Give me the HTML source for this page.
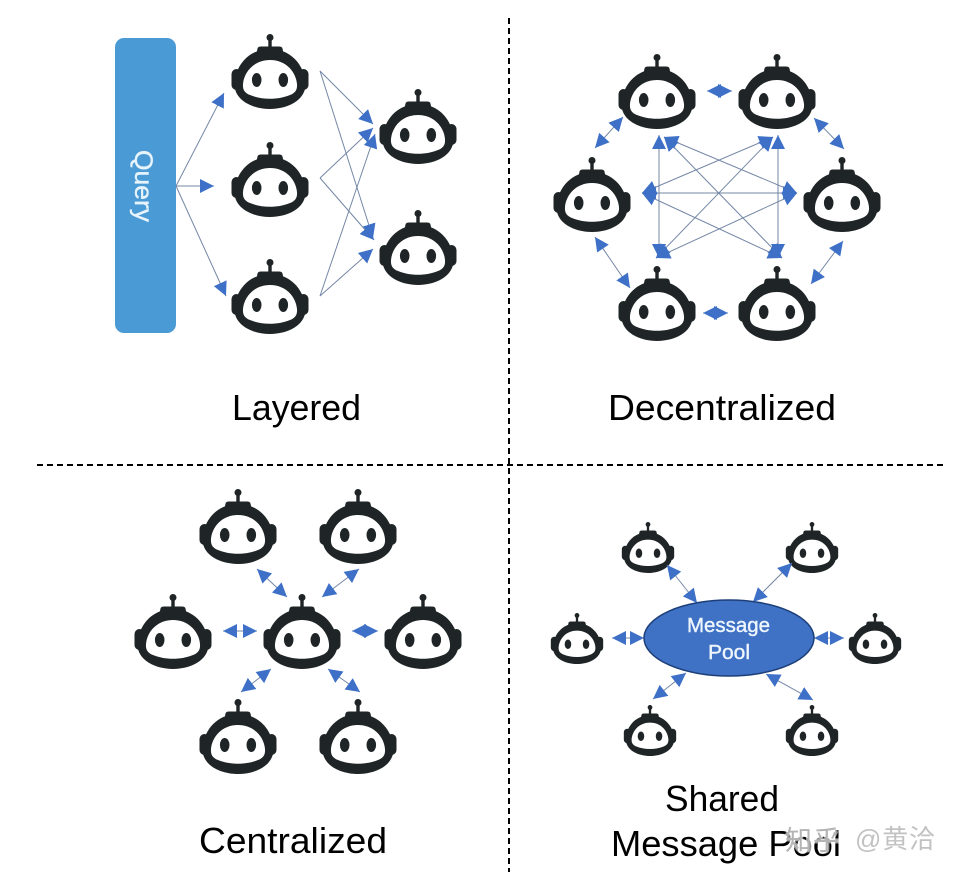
<!DOCTYPE html>
<html>
<head>
<meta charset="utf-8">
<style>
html,body{margin:0;padding:0;background:#fff;width:960px;height:876px;overflow:hidden}
svg{display:block}
text{font-family:"Liberation Sans","Noto Sans CJK SC",sans-serif}
.l{stroke:#7487a6;stroke-width:1;fill:none}
.b{marker-start:url(#as);marker-end:url(#ae)}
.e{marker-end:url(#ae)}
.t{font-size:36px;fill:#000;text-anchor:start}
</style>
</head>
<body>
<svg width="960" height="876" viewBox="0 0 960 876" xmlns="http://www.w3.org/2000/svg">
<defs>
<marker id="ae" markerUnits="userSpaceOnUse" markerWidth="16" markerHeight="16" refX="14" refY="8" orient="auto"><path d="M0 1 L14 8 L0 15Z" fill="#3d70c6"/></marker>
<marker id="as" markerUnits="userSpaceOnUse" markerWidth="16" markerHeight="16" refX="0" refY="8" orient="auto"><path d="M14 1 L0 8 L14 15Z" fill="#3d70c6"/></marker>
<g id="r">
<rect x="-1.7" y="3" width="3.4" height="12" fill="#1f2526"/>
<circle cx="0" cy="3.5" r="3.5" fill="#1f2526"/>
<path d="M-14 22 L-12.5 14.5 Q-12 12.5 -9 12.5 L9 12.5 Q12 12.5 12.5 14.5 L14 22Z" fill="#1f2526"/>
<rect x="-38.5" y="35" width="10" height="21" rx="5" fill="#1f2526"/>
<rect x="28.5" y="35" width="10" height="21" rx="5" fill="#1f2526"/>
<path d="M0 15 C20 15 34 30 35.5 49 C36.5 66 18 75 0 75 C-18 75 -36.5 66 -35.5 49 C-34 30 -20 15 0 15Z" fill="#1f2526"/>
<path d="M0 26 C-16 26 -26 38 -27 50 C-27.5 56 -25 59 -20 61 C-8 66 8 66 20 61 C25 59 27.5 56 27 50 C26 38 16 26 0 26Z" fill="#fff"/>
<ellipse cx="-13.3" cy="46" rx="4.8" ry="7" fill="#1f2526"/>
<ellipse cx="13.3" cy="46" rx="4.8" ry="7" fill="#1f2526"/>
</g>
</defs>

<!-- dividers -->
<line x1="509" y1="18" x2="509" y2="872" stroke="#000" stroke-width="2" stroke-dasharray="6 4"/>
<line x1="37" y1="465" x2="943" y2="465" stroke="#000" stroke-width="2" stroke-dasharray="6 4"/>

<!-- Layered -->
<rect x="115" y="38" width="61" height="295" rx="9" fill="#4a9ad6"/>
<text transform="translate(135,150) rotate(90)" font-size="25" fill="#e8f4fb" stroke="#e8f4fb" stroke-width=".4" textLength="72" lengthAdjust="spacingAndGlyphs">Query</text>
<use href="#r" transform="translate(270,34)"/>
<use href="#r" transform="translate(270,142)"/>
<use href="#r" transform="translate(270,259)"/>
<use href="#r" transform="translate(418,89)"/>
<use href="#r" transform="translate(418,210)"/>
<line class="l e" x1="176" y1="186" x2="224" y2="93"/>
<line class="l e" x1="176" y1="186" x2="214" y2="186"/>
<line class="l e" x1="176" y1="186" x2="226" y2="296"/>
<line class="l e" x1="320" y1="71" x2="373" y2="124"/>
<line class="l e" x1="320" y1="71" x2="373" y2="238"/>
<line class="l e" x1="320" y1="178" x2="373" y2="128"/>
<line class="l e" x1="320" y1="178" x2="374" y2="240"/>
<line class="l e" x1="320" y1="296" x2="375" y2="134"/>
<line class="l e" x1="320" y1="296" x2="373" y2="249"/>
<text class="t" x="232" y="420" textLength="129" lengthAdjust="spacingAndGlyphs">Layered</text>

<!-- Decentralized -->
<use href="#r" transform="translate(657,54)"/>
<use href="#r" transform="translate(777,54)"/>
<use href="#r" transform="translate(592,157)"/>
<use href="#r" transform="translate(842,157)"/>
<use href="#r" transform="translate(657,266)"/>
<use href="#r" transform="translate(777,266)"/>
<line class="l b" x1="707" y1="91" x2="732" y2="91"/>
<line class="l b" x1="703" y1="313" x2="728" y2="313"/>
<line class="l b" x1="595" y1="148" x2="623" y2="117"/>
<line class="l b" x1="814" y1="118" x2="844" y2="149"/>
<line class="l b" x1="595" y1="237" x2="630" y2="288"/>
<line class="l b" x1="843" y1="241" x2="811" y2="284"/>
<line class="l b" x1="659" y1="135" x2="659" y2="258"/>
<line class="l b" x1="778" y1="135" x2="778" y2="258"/>
<line class="l b" x1="642" y1="193" x2="797" y2="193"/>
<line class="l b" x1="664" y1="137" x2="797" y2="193"/>
<line class="l b" x1="664" y1="137" x2="782" y2="258"/>
<line class="l b" x1="773" y1="137" x2="642" y2="193"/>
<line class="l b" x1="773" y1="137" x2="656" y2="258"/>
<line class="l b" x1="642" y1="193" x2="782" y2="258"/>
<line class="l b" x1="797" y1="193" x2="656" y2="258"/>
<text class="t" x="608" y="420" textLength="228" lengthAdjust="spacingAndGlyphs">Decentralized</text>

<!-- Centralized -->
<use href="#r" transform="translate(238,489)"/>
<use href="#r" transform="translate(358,489)"/>
<use href="#r" transform="translate(173,594)"/>
<use href="#r" transform="translate(302,594)"/>
<use href="#r" transform="translate(423,594)"/>
<use href="#r" transform="translate(238,699)"/>
<use href="#r" transform="translate(358,699)"/>
<line class="l b" x1="257" y1="569" x2="287" y2="597"/>
<line class="l b" x1="359" y1="569" x2="322" y2="597"/>
<line class="l b" x1="223" y1="631" x2="257" y2="631"/>
<line class="l b" x1="352" y1="631" x2="378" y2="631"/>
<line class="l b" x1="271" y1="669" x2="241" y2="692"/>
<line class="l b" x1="328" y1="669" x2="360" y2="692"/>
<text class="t" x="199" y="853" textLength="188" lengthAdjust="spacingAndGlyphs">Centralized</text>

<!-- Shared Message Pool -->
<use href="#r" transform="translate(648,522) scale(.68)"/>
<use href="#r" transform="translate(812,522) scale(.68)"/>
<use href="#r" transform="translate(577,613) scale(.68)"/>
<use href="#r" transform="translate(875,613) scale(.68)"/>
<use href="#r" transform="translate(650,705) scale(.68)"/>
<use href="#r" transform="translate(812,705) scale(.68)"/>
<line class="l b" x1="667" y1="565" x2="697" y2="603"/>
<line class="l b" x1="792" y1="563" x2="753" y2="602"/>
<line class="l b" x1="612" y1="638" x2="644" y2="638"/>
<line class="l b" x1="814" y1="638" x2="844" y2="638"/>
<line class="l b" x1="686" y1="673" x2="653" y2="699"/>
<line class="l b" x1="766" y1="674" x2="813" y2="700"/>
<ellipse cx="729" cy="638" rx="85" ry="38" fill="#3f71c5" stroke="#1d3f78" stroke-width="1.5"/>
<text x="687" y="632" font-size="20" fill="#eef5fc" stroke="#eef5fc" stroke-width=".4" textLength="83" lengthAdjust="spacingAndGlyphs">Message</text>
<text x="708" y="659" font-size="20" fill="#eef5fc" stroke="#eef5fc" stroke-width=".4" textLength="42" lengthAdjust="spacingAndGlyphs">Pool</text>
<text class="t" x="665" y="811" textLength="114" lengthAdjust="spacingAndGlyphs">Shared</text>
<text class="t" x="611" y="856" textLength="230" lengthAdjust="spacingAndGlyphs">Message Pool</text>

<!-- watermark -->
<text x="785" y="850" font-size="27" fill="#fff" fill-opacity=".6" stroke="#fff" stroke-opacity=".6" stroke-width="3" textLength="55">知乎</text>
<text x="785" y="850" font-size="27" fill="#b4b4b4" textLength="55">知乎</text>
<text x="855" y="848" font-size="26" fill="#c2c2c2" textLength="80">@黄洽</text>
</svg>
</body>
</html>
